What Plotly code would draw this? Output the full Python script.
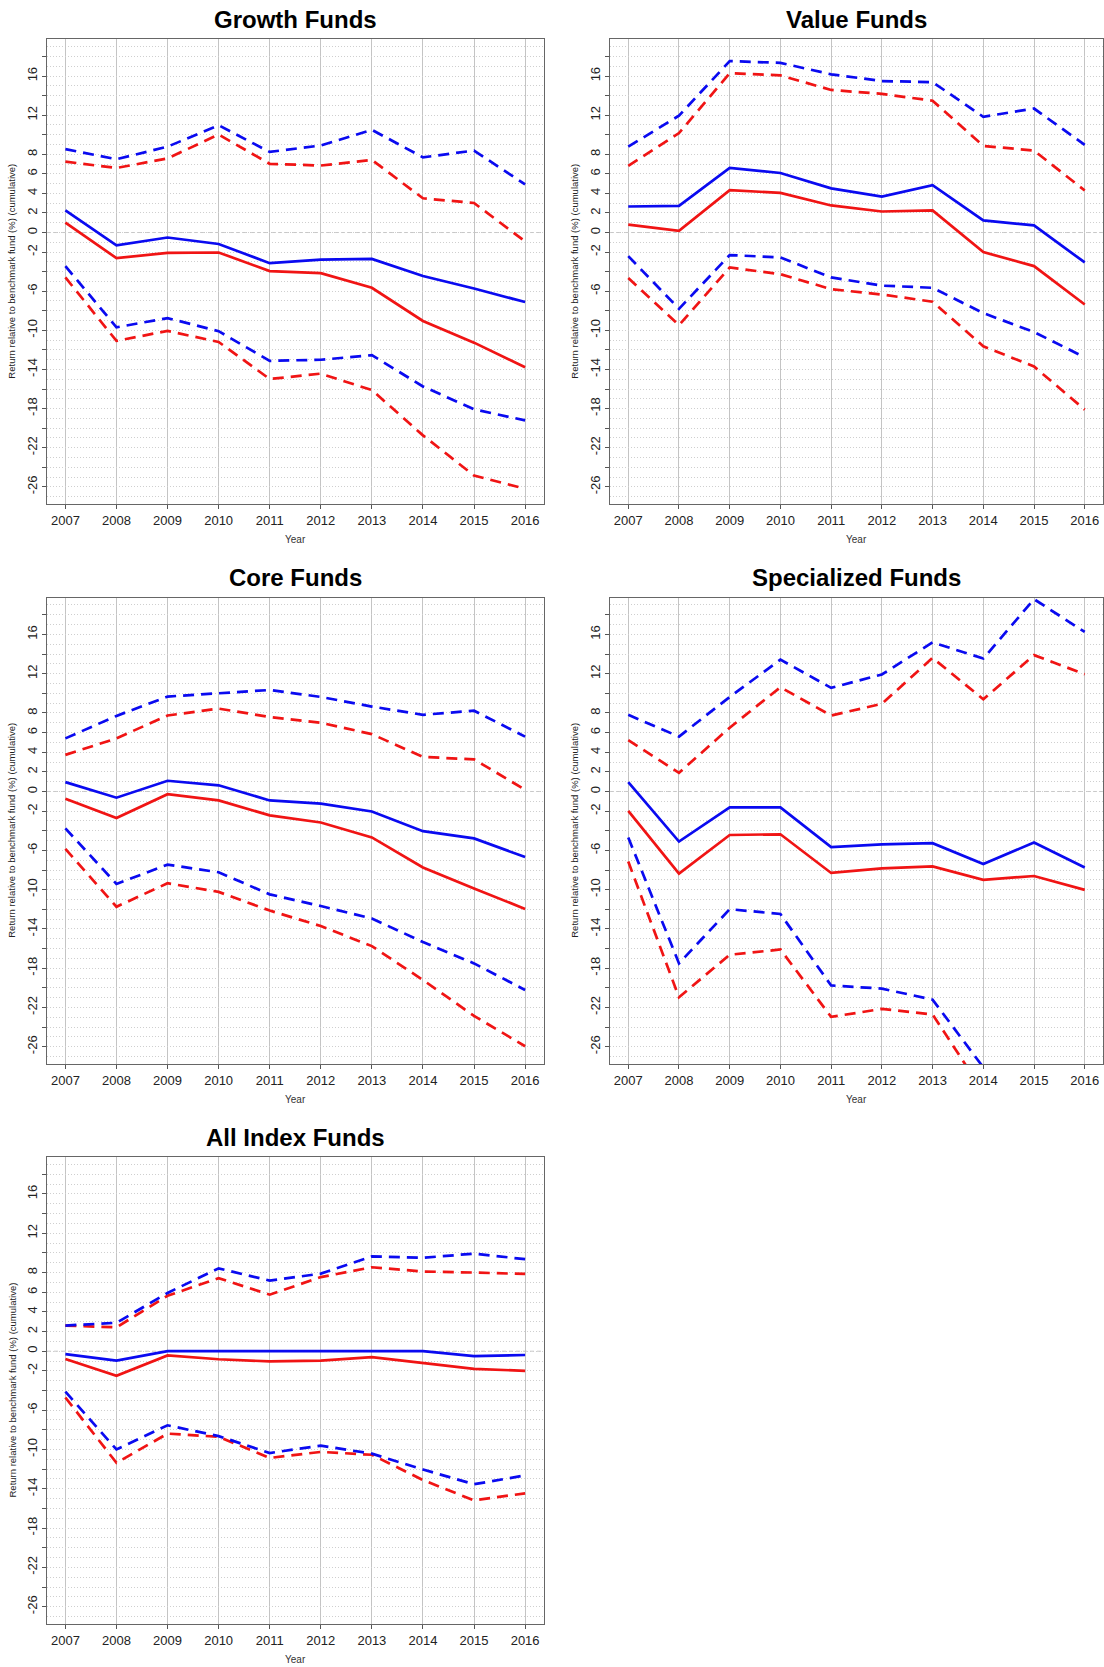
import plotly.graph_objects as go

W, H = 1104, 1667

years = list(range(2007, 2017))

# ---- Growth Funds ----
growth_blue_mid = [2.26, -1.31, -0.51, -1.17, -3.13, -2.77, -2.70, -4.45, -5.72, -7.11]
growth_blue_hi = [8.53, 7.50, 8.78, 10.97, 8.24, 8.90, 10.50, 7.69, 8.38, 4.92]
growth_blue_lo = [-3.43, -9.69, -8.75, -10.09, -13.12, -13.01, -12.54, -15.74, -18.08, -19.21]
growth_red_mid = [1.02, -2.62, -2.08, -2.04, -3.94, -4.15, -5.65, -9.04, -11.26, -13.78]
growth_red_hi = [7.25, 6.60, 7.58, 10.02, 7.03, 6.85, 7.43, 3.50, 3.02, -0.91]
growth_red_lo = [-4.59, -11.08, -10.06, -11.19, -14.98, -14.43, -16.11, -20.74, -24.85, -26.20]

# ---- Value Funds ----
value_blue_mid = [2.66, 2.73, 6.60, 6.09, 4.52, 3.68, 4.85, 1.24, 0.73, -3.06]
value_blue_hi = [8.78, 11.95, 17.53, 17.35, 16.18, 15.49, 15.38, 11.84, 12.68, 8.96]
value_blue_lo = [-2.41, -7.80, -2.30, -2.55, -4.59, -5.43, -5.65, -8.24, -10.17, -12.76]
value_red_mid = [0.80, 0.18, 4.34, 4.05, 2.77, 2.15, 2.26, -2.00, -3.43, -7.36]
value_red_hi = [6.81, 10.17, 16.29, 16.07, 14.58, 14.18, 13.48, 8.86, 8.38, 4.30]
value_red_lo = [-4.66, -9.48, -3.57, -4.26, -5.79, -6.34, -7.07, -11.63, -13.70, -18.11]

# ---- Core Funds ----
core_blue_mid = [0.95, -0.63, 1.09, 0.63, -0.91, -1.23, -2.04, -4.04, -4.78, -6.68]
core_blue_hi = [5.41, 7.70, 9.67, 10.02, 10.34, 9.63, 8.65, 7.81, 8.23, 5.59]
core_blue_lo = [-3.76, -9.42, -7.45, -8.23, -10.48, -11.67, -12.94, -15.33, -17.51, -20.22]
core_red_mid = [-0.74, -2.71, -0.28, -0.91, -2.43, -3.16, -4.68, -7.74, -9.88, -11.96]
core_red_hi = [3.73, 5.41, 7.74, 8.44, 7.59, 7.00, 5.84, 3.52, 3.27, 0.18]
core_red_lo = [-5.84, -11.74, -9.35, -10.23, -12.13, -13.71, -15.75, -19.20, -22.86, -25.95]

# ---- Specialized Funds ----
spec_blue_mid = [0.95, -5.10, -1.62, -1.62, -5.66, -5.38, -5.27, -7.38, -5.20, -7.74]
spec_blue_hi = [7.81, 5.59, 9.63, 13.43, 10.55, 11.92, 15.19, 13.54, 19.59, 16.25]
spec_blue_lo = [-4.68, -17.51, -11.99, -12.48, -19.76, -20.08, -21.20, -28.10, -30.00, -29.50]
spec_red_mid = [-1.97, -8.37, -4.43, -4.36, -8.30, -7.84, -7.63, -9.00, -8.61, -10.02]
spec_red_hi = [5.24, 1.90, 6.50, 10.62, 7.74, 8.93, 13.61, 9.39, 13.89, 11.95]
spec_red_lo = [-7.14, -20.96, -16.63, -16.10, -22.96, -22.15, -22.71, -30.60, -33.00, -32.00]

# ---- All Index Funds ----
all_blue_mid = [-0.29, -0.96, 0.00, 0.00, -0.04, 0.00, 0.00, 0.00, -0.50, -0.39]
all_blue_hi = [2.61, 2.89, 5.93, 8.43, 7.18, 7.89, 9.64, 9.50, 9.93, 9.36]
all_blue_lo = [-4.11, -10.00, -7.54, -8.64, -10.36, -9.61, -10.43, -12.04, -13.54, -12.64]
all_red_mid = [-0.79, -2.50, -0.43, -0.82, -1.04, -0.96, -0.61, -1.21, -1.79, -2.00]
all_red_hi = [2.61, 2.43, 5.64, 7.43, 5.75, 7.54, 8.54, 8.11, 8.00, 7.86]
all_red_lo = [-4.71, -11.36, -8.39, -8.71, -10.86, -10.25, -10.54, -13.11, -15.18, -14.46]

panel_titles = ["Growth Funds", "Value Funds", "Core Funds", "Specialized Funds", "All Index Funds"]

y_ticks = list(range(-26, 19, 2))
y_labels_shown = [16, 12, 8, 6, 4, 2, 0, -2, -6, -10, -14, -18, -22, -26]
y_ticktext = [str(v) if v in y_labels_shown else "" for v in y_ticks]

y_title = "Return relative to benchmark fund (%) (cumulative)"

# panel boxes in pixels: (left, right, top, bottom)
col_x = [(47, 543.5), (610, 1103)]
row_y = [(39.3, 504), (597.5, 1064), (1157, 1624)]
boxes = [
    (col_x[0], row_y[0]),
    (col_x[1], row_y[0]),
    (col_x[0], row_y[1]),
    (col_x[1], row_y[1]),
    (col_x[0], row_y[2]),
]

series = [
    (growth_blue_mid, growth_blue_hi, growth_blue_lo, growth_red_mid, growth_red_hi, growth_red_lo),
    (value_blue_mid, value_blue_hi, value_blue_lo, value_red_mid, value_red_hi, value_red_lo),
    (core_blue_mid, core_blue_hi, core_blue_lo, core_red_mid, core_red_hi, core_red_lo),
    (spec_blue_mid, spec_blue_hi, spec_blue_lo, spec_red_mid, spec_red_hi, spec_red_lo),
    (all_blue_mid, all_blue_hi, all_blue_lo, all_red_mid, all_red_hi, all_red_lo),
]

BLUE = "#0a0af0"
RED = "#f01414"
DASH = "11px,7px"
LW = 2.7
FONT = "Liberation Sans, Arial, sans-serif"
GRID_DOT = "1px,2px"

fig = go.Figure()
layout = dict(
    width=W, height=H,
    margin=dict(l=0, r=0, t=0, b=0),
    paper_bgcolor="white", plot_bgcolor="white",
    showlegend=False,
    font=dict(family=FONT, color="#222"),
)
annotations = []
shapes = []


def px_x(p):
    return p / W


def px_y(p):
    return 1 - p / H


for i, ((xl, xr), (yt, yb)) in enumerate(boxes):
    n = "" if i == 0 else str(i + 1)
    xa, ya = "x" + n, "y" + n
    bm, bh, blo, rm, rh, rlo = series[i]
    for vals, color, dash in [
        (rh, RED, DASH), (rlo, RED, DASH), (rm, RED, "solid"),
        (bh, BLUE, DASH), (blo, BLUE, DASH), (bm, BLUE, "solid"),
    ]:
        fig.add_trace(go.Scatter(
            x=years, y=vals, mode="lines", xaxis=xa, yaxis=ya,
            line=dict(color=color, width=LW, dash=dash),
            hoverinfo="skip",
        ))

    layout["xaxis" + n] = dict(
        domain=[px_x(xl), px_x(xr)], anchor=ya,
        range=[2006.64, 2016.36],
        tickmode="array", tickvals=years, ticktext=[str(y) for y in years],
        ticks="outside", ticklen=4, tickcolor="#555", tickwidth=1,
        tickfont=dict(size=13, color="#222"),
        showgrid=True, gridcolor="#c4c4c4", gridwidth=1,
        showline=True, mirror=True, linecolor="#666", linewidth=1.4,
        zeroline=False, fixedrange=True,
    )
    layout["yaxis" + n] = dict(
        domain=[px_y(yb), px_y(yt)], anchor=xa,
        range=[-27.76, 19.76],
        tickmode="array", tickvals=y_ticks, ticktext=y_ticktext,
        ticks="outside", ticklen=4, tickcolor="#555", tickwidth=1,
        tickangle=-90, tickfont=dict(size=13, color="#222"),
        showgrid=True, gridcolor="#cfcfcf", gridwidth=1, griddash=GRID_DOT,
        minor=dict(tickmode="linear", tick0=1, dtick=2, showgrid=True,
                   gridcolor="#cfcfcf", gridwidth=1, griddash=GRID_DOT, ticks=""),
        showline=True, mirror=True, linecolor="#666", linewidth=1.4,
        zeroline=False, fixedrange=True,
    )

    # dashed reference line at zero
    shapes.append(dict(
        type="line", xref=xa + " domain", yref=ya,
        x0=0, x1=1, y0=0, y1=0,
        line=dict(color="#c8c8c8", width=1, dash="4px,3px"), layer="below",
    ))

    cx = (xl + xr) / 2
    annotations.append(dict(
        text=panel_titles[i], xref="paper", yref="paper",
        x=px_x(cx), y=px_y(yt - 20), xanchor="center", yanchor="middle",
        showarrow=False, font=dict(size=24, color="black", family=FONT, weight="bold"),
    ))
    annotations.append(dict(
        text="Year", xref="paper", yref="paper",
        x=px_x(cx), y=px_y(yb + 35), xanchor="center", yanchor="middle",
        showarrow=False, font=dict(size=10, color="#333", family=FONT),
    ))
    annotations.append(dict(
        text=y_title, xref="paper", yref="paper",
        x=px_x(xl - 35), y=px_y((yt + yb) / 2), xanchor="center", yanchor="middle",
        textangle=-90, showarrow=False, font=dict(size=9.5, color="#222", family=FONT),
    ))

layout["annotations"] = annotations
layout["shapes"] = shapes
fig.update_layout(**layout)

fig.write_html("out.html")
